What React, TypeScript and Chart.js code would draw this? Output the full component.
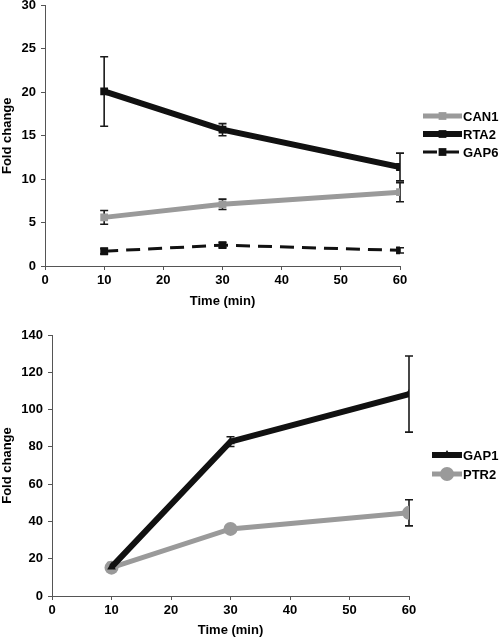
import React, { useEffect, useRef } from "react";
import { Chart, registerables } from "chart.js";

Chart.register(...registerables);

// ---- Data ----
const timePoints = [10, 30, 60];

const can1 = [5.6, 7.1, 8.5];
const can1Err = [0.8, 0.6, 1.1];
const rta2 = [20.1, 15.7, 11.4];
const rta2Err = [4.0, 0.7, 1.6];
const gap6 = [1.7, 2.4, 1.8];
const gap6Err = [0.3, 0.3, 0.3];

const gap1 = [15.5, 82.8, 108.3];
const gap1Err = [2.5, 2.6, 20.4];
const ptr2 = [15.2, 36.0, 44.6];
const ptr2Err = [1.5, 1.5, 7.0];

const xTitle = "Time (min)";
const yTitle = "Fold change";

const BLACK = "#111111";
const GRAY = "#9a9a9a";
const AXIS = "#555555";
const TEXT = "#000000";
const FONT = "'Liberation Sans', Arial, Helvetica, sans-serif";

function toXY(ys: number[]) {
  return timePoints.map((x, i) => ({ x, y: ys[i] }));
}

function drawMarker(ctx: CanvasRenderingContext2D, style: string, r: number, x: number, y: number, color: string) {
  ctx.save();
  ctx.fillStyle = color;
  ctx.beginPath();
  if (style === "rect") {
    const s = Math.SQRT1_2 * r;
    ctx.rect(x - s, y - s, 2 * s, 2 * s);
  } else if (style === "circle") {
    ctx.arc(x, y, r, 0, Math.PI * 2);
  } else if (style === "triangle") {
    ctx.moveTo(x, y - r);
    ctx.lineTo(x + r * 0.866, y + r * 0.5);
    ctx.lineTo(x - r * 0.866, y + r * 0.5);
    ctx.closePath();
  }
  ctx.fill();
  ctx.restore();
}

const errorBarPlugin = {
  id: "errorBars",
  beforeDatasetsDraw(chart: any) {
    const ctx = chart.ctx;
    const yScale = chart.scales.y;
    chart.data.datasets.forEach((ds: any, i: number) => {
      const meta = chart.getDatasetMeta(i);
      const errs: number[] = ds.errors || [];
      meta.data.forEach((pt: any, j: number) => {
        const e = errs[j];
        if (!e) return;
        const v = ds.data[j].y;
        const yTop = yScale.getPixelForValue(v + e);
        const yBot = yScale.getPixelForValue(v - e);
        const x = pt.x;
        ctx.save();
        ctx.strokeStyle = "#1a1a1a";
        ctx.lineWidth = 1.6;
        ctx.beginPath();
        ctx.moveTo(x, yTop);
        ctx.lineTo(x, yBot);
        ctx.moveTo(x - 4, yTop);
        ctx.lineTo(x + 4, yTop);
        ctx.moveTo(x - 4, yBot);
        ctx.lineTo(x + 4, yBot);
        ctx.stroke();
        ctx.restore();
      });
    });
  },
};

const legendPlugin = {
  id: "sideLegend",
  afterDraw(chart: any, _args: any, opts: any) {
    const ctx = chart.ctx;
    const { x0, x1, ys, textX } = opts;
    chart.data.datasets.forEach((ds: any, i: number) => {
      const y = ys[i];
      ctx.save();
      ctx.strokeStyle = ds.borderColor;
      ctx.lineWidth = ds.borderWidth;
      ctx.setLineDash(ds.borderDash || []);
      ctx.beginPath();
      ctx.moveTo(x0, y);
      ctx.lineTo(x1, y);
      ctx.stroke();
      ctx.restore();
      drawMarker(ctx, ds.pointStyle, ds.pointRadius, (x0 + x1) / 2, y, ds.borderColor);
      ctx.save();
      ctx.fillStyle = TEXT;
      ctx.font = `bold 13px ${FONT}`;
      ctx.textAlign = "left";
      ctx.textBaseline = "middle";
      ctx.fillText(ds.label, textX, y + 1);
      ctx.restore();
    });
  },
};

function makeScales(yMax: number, yStep: number, yWidth: number, xHeight: number) {
  const tickFont = { family: FONT, size: 13, weight: "bold" as const };
  const titleFont = { family: FONT, size: 13, weight: "bold" as const };
  return {
    x: {
      type: "linear" as const,
      min: 0,
      max: 60,
      ticks: { stepSize: 10, font: tickFont, color: TEXT, padding: 3 },
      grid: { display: true, drawOnChartArea: false, drawTicks: true, tickLength: 4, color: AXIS, lineWidth: 1 },
      border: { display: true, color: AXIS, width: 1 },
      title: { display: true, text: xTitle, font: titleFont, color: TEXT, padding: { top: 0, bottom: 1 } },
      afterFit(s: any) {
        s.height = xHeight;
        s.paddingLeft = 0;
        s.paddingRight = 0;
      },
    },
    y: {
      type: "linear" as const,
      min: 0,
      max: yMax,
      ticks: { stepSize: yStep, font: tickFont, color: TEXT, padding: 5 },
      grid: { display: true, drawOnChartArea: false, drawTicks: true, tickLength: 4, color: AXIS, lineWidth: 1 },
      border: { display: true, color: AXIS, width: 1 },
      title: { display: true, text: yTitle, font: titleFont, color: TEXT, padding: { top: 0, bottom: 0 } },
      afterFit(s: any) {
        s.width = yWidth;
        s.paddingTop = 0;
        s.paddingBottom = 0;
      },
    },
  };
}

function TopChart() {
  const ref = useRef<HTMLCanvasElement>(null);
  useEffect(() => {
    if (!ref.current) return;
    const chart = new Chart(ref.current, {
      type: "line",
      data: {
        datasets: [
          {
            label: "CAN1",
            data: toXY(can1),
            errors: can1Err,
            borderColor: GRAY,
            backgroundColor: GRAY,
            borderWidth: 5,
            pointStyle: "rect",
            pointRadius: 5.5,
            pointBorderWidth: 0,
            pointBackgroundColor: GRAY,
          } as any,
          {
            label: "RTA2",
            data: toXY(rta2),
            errors: rta2Err,
            borderColor: BLACK,
            backgroundColor: BLACK,
            borderWidth: 6,
            pointStyle: "rect",
            pointRadius: 5.5,
            pointBorderWidth: 0,
            pointBackgroundColor: BLACK,
          } as any,
          {
            label: "GAP6",
            data: toXY(gap6),
            errors: gap6Err,
            borderColor: BLACK,
            backgroundColor: BLACK,
            borderWidth: 3,
            borderDash: [14, 8],
            pointStyle: "rect",
            pointRadius: 5.5,
            pointBorderWidth: 0,
            pointBackgroundColor: BLACK,
          } as any,
        ],
      },
      options: {
        responsive: false,
        animation: false,
        layout: { padding: { top: 5, right: 100, left: 0, bottom: 0 } },
        plugins: {
          legend: { display: false },
          tooltip: { enabled: false },
          sideLegend: { x0: 423, x1: 462, ys: [116, 134, 152], textX: 463 },
        } as any,
        scales: makeScales(30, 5, 45, 44) as any,
      },
      plugins: [errorBarPlugin, legendPlugin],
    });
    return () => chart.destroy();
  }, []);
  return <canvas ref={ref} width={500} height={310} style={{ display: "block", width: 500, height: 310 }} />;
}

function BottomChart() {
  const ref = useRef<HTMLCanvasElement>(null);
  useEffect(() => {
    if (!ref.current) return;
    const chart = new Chart(ref.current, {
      type: "line",
      data: {
        datasets: [
          {
            label: "GAP1",
            data: toXY(gap1),
            errors: gap1Err,
            borderColor: BLACK,
            backgroundColor: BLACK,
            borderWidth: 6,
            pointStyle: "triangle",
            pointRadius: 5,
            pointBorderWidth: 0,
            pointBackgroundColor: BLACK,
          } as any,
          {
            label: "PTR2",
            data: toXY(ptr2),
            errors: ptr2Err,
            borderColor: GRAY,
            backgroundColor: GRAY,
            borderWidth: 5,
            pointStyle: "circle",
            pointRadius: 7,
            pointBorderWidth: 0,
            pointBackgroundColor: GRAY,
          } as any,
        ],
      },
      options: {
        responsive: false,
        animation: false,
        layout: { padding: { top: 25, right: 91, left: 0, bottom: 0 } },
        plugins: {
          legend: { display: false },
          tooltip: { enabled: false },
          sideLegend: { x0: 432, x1: 462, ys: [455, 474].map((v) => v - 310), textX: 463 },
        } as any,
        scales: makeScales(140, 20, 52, 43) as any,
      },
      plugins: [errorBarPlugin, legendPlugin],
    });
    return () => chart.destroy();
  }, []);
  return <canvas ref={ref} width={500} height={329} style={{ display: "block", width: 500, height: 329 }} />;
}

export default function App() {
  return (
    <div style={{ position: "absolute", left: 0, top: 0, width: 500, height: 639, background: "#fff" }}>
      <TopChart />
      <BottomChart />
    </div>
  );
}
